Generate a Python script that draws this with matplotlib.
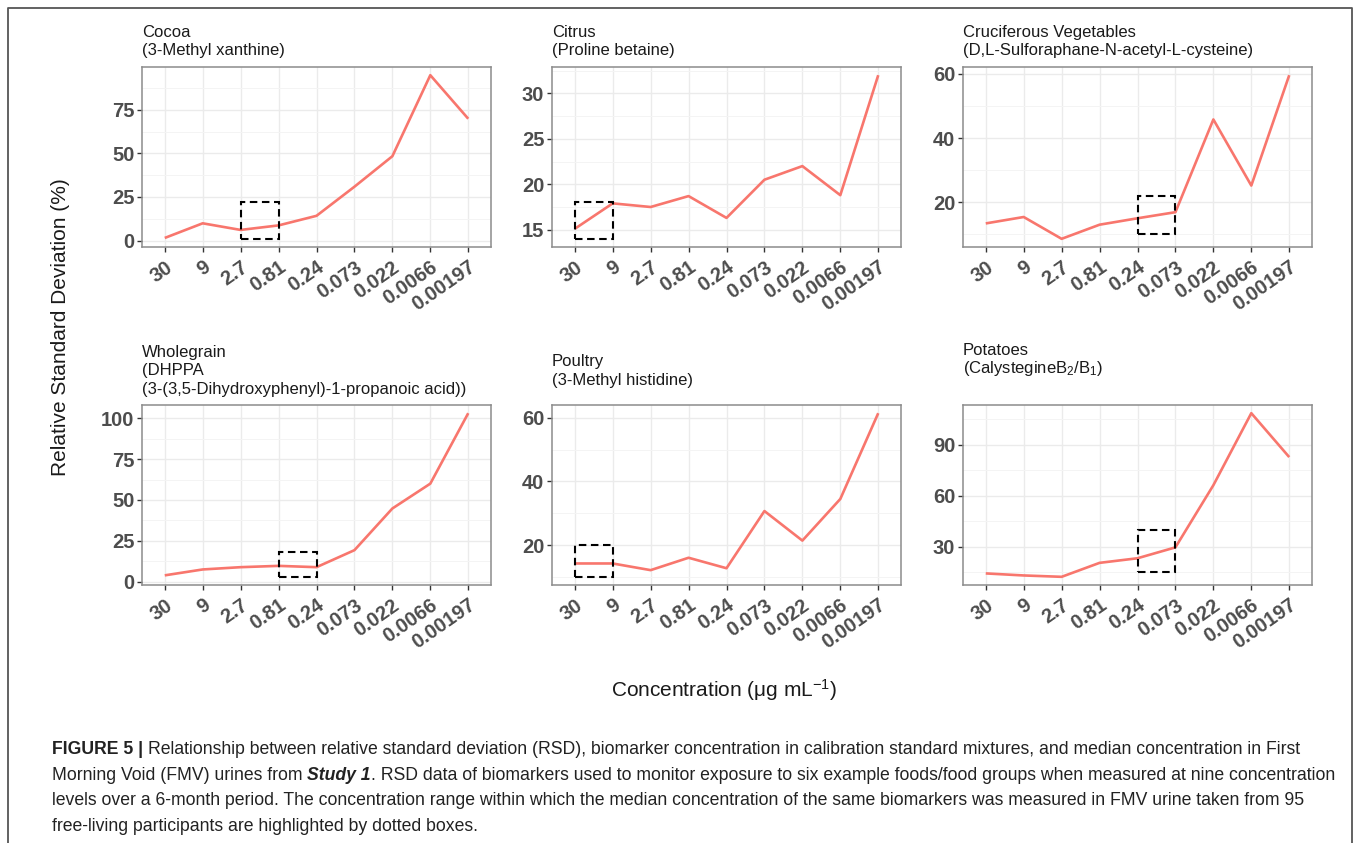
import matplotlib
matplotlib.use("Agg")
import matplotlib.pyplot as plt
from matplotlib.lines import Line2D
from matplotlib.patches import Rectangle
from matplotlib.ticker import MultipleLocator
import numpy as np

plt.rcParams["font.family"] = ["Liberation Sans", "DejaVu Sans"]

# Calibration levels (µg/mL), highest to lowest
concentrations = ["30", "9", "2.7", "0.81", "0.24", "0.073", "0.022", "0.0066", "0.00197"]

# RSD (%) of each biomarker at every calibration level
cocoa_rsd = [1.5, 9.9, 6.1, 8.7, 14.2, 30.9, 48.4, 94.9, 69.9]
citrus_rsd = [15.1, 17.9, 17.5, 18.7, 16.3, 20.5, 22.0, 18.8, 32.0]
cruciferous_rsd = [13.4, 15.4, 8.6, 13.0, 15.0, 16.9, 45.8, 25.2, 59.6]
wholegrain_rsd = [3.9, 7.5, 8.9, 9.7, 8.9, 19.3, 44.8, 60.0, 103.1]
poultry_rsd = [14.2, 14.2, 12.1, 16.0, 12.7, 30.7, 21.4, 34.5, 61.5]
potatoes_rsd = [14.3, 13.1, 12.3, 20.5, 23.2, 29.6, 66.1, 108.4, 82.6]

# Range of median FMV urine concentrations: (from level, to level, RSD low, RSD high)
cocoa_box = ("2.7", "0.81", 1, 22)
citrus_box = ("30", "9", 14, 18)
cruciferous_box = ("0.24", "0.073", 10, 22)
wholegrain_box = ("0.81", "0.24", 3, 18)
poultry_box = ("30", "9", 10, 20)
potatoes_box = ("0.24", "0.073", 15, 40)

titles = [
    ["Cocoa", "(3-Methyl xanthine)"],
    ["Citrus", "(Proline betaine)"],
    ["Cruciferous Vegetables", "(D,L-Sulforaphane-N-acetyl-L-cysteine)"],
    ["Wholegrain", "(DHPPA", "(3-(3,5-Dihydroxyphenyl)-1-propanoic acid))"],
    ["Poultry", "(3-Methyl histidine)"],
    ["Potatoes", r"(Calystegine$\mathregular{B_2}$/$\mathregular{B_1}$)"],
]
series = [cocoa_rsd, citrus_rsd, cruciferous_rsd, wholegrain_rsd, poultry_rsd, potatoes_rsd]
boxes = [cocoa_box, citrus_box, cruciferous_box, wholegrain_box, poultry_box, potatoes_box]
y_steps = [25, 5, 20, 25, 20, 30]

W, H = 1358, 843
fig = plt.figure(figsize=(W / 100, H / 100), dpi=100)
fig.patch.set_facecolor("white")

# panel layout in pixels: (left, top, width, height), plus title first-line baseline
panel_left = [142, 552, 963]
panel_top = [67, 405]
panel_w, panel_h = 349, 180
title_base = [37, 37, 37, 357, 366, 355]
line_gap = 18.5

LINE_COLOR = "#F8766D"
TICK_COLOR = "#4D4D4D"

for i in range(6):
    r, c = divmod(i, 3)
    l, t = panel_left[c], panel_top[r]
    ax = fig.add_axes([l / W, 1 - (t + panel_h) / H, panel_w / W, panel_h / H])
    x = np.arange(len(concentrations))
    vals = series[i]
    b0, b1, lo, hi = boxes[i]
    ax.plot(x, vals, color=LINE_COLOR, lw=1.9, solid_capstyle="butt", zorder=3)
    xb0, xb1 = concentrations.index(b0), concentrations.index(b1)
    ax.add_patch(Rectangle((xb0, lo), xb1 - xb0, hi - lo, fill=False,
                           edgecolor="black", lw=1.5, linestyle=(0, (3.6, 2.2)), zorder=4))

    # limits expanded by 5 % (continuous) and 0.6 units (discrete)
    ymin = min(min(vals), lo)
    ymax = max(max(vals), hi)
    rng = ymax - ymin
    ax.set_ylim(ymin - 0.05 * rng, ymax + 0.05 * rng)
    ax.set_xlim(-0.6, len(concentrations) - 0.4)

    step = y_steps[i]
    ax.yaxis.set_major_locator(MultipleLocator(step))
    ax.yaxis.set_minor_locator(MultipleLocator(step / 2))
    ax.set_xticks(x)
    ax.set_xticklabels(concentrations, rotation=35, ha="right", va="top",
                       rotation_mode="anchor")

    ax.grid(True, which="major", color="#EBEBEB", lw=1.0, zorder=0)
    ax.grid(True, which="minor", axis="y", color="#F4F4F4", lw=0.7, zorder=0)
    ax.set_axisbelow(True)
    for s in ax.spines.values():
        s.set_color("#8C8C8C")
        s.set_linewidth(1.1)
    ax.tick_params(axis="both", which="major", length=3.5, width=1.0, color="#333333",
                   labelcolor=TICK_COLOR, labelsize=14.5, pad=2)
    ax.tick_params(axis="x", which="major", pad=4)
    ax.tick_params(axis="y", which="minor", length=0)
    for lab in ax.get_xticklabels() + ax.get_yticklabels():
        lab.set_fontweight("bold")

    for k, line in enumerate(titles[i]):
        fig.text(l / W, 1 - (title_base[i] + k * line_gap) / H, line,
                 ha="left", va="baseline", fontsize=12, color="#1A1A1A")

# shared axis titles
fig.text(60 / W, 1 - 327 / H, "Relative Standard Deviation (%)", rotation=90,
         ha="center", va="center", fontsize=15, color="#1A1A1A")
fig.text(724 / W, 1 - 697 / H, r"Concentration (μg mL$\mathregular{^{-1}}$)",
         ha="center", va="baseline", fontsize=15, color="#1A1A1A")

# frame around the figure
fig.add_artist(Line2D([8 / W, 8 / W, 1352 / W, 1352 / W], [0, 1 - 8 / H, 1 - 8 / H, 0],
                      transform=fig.transFigure, color="#555555", lw=1.3))

# caption with mixed styles
caption = [
    [("FIGURE 5 | ", "bold", "normal"),
     ("Relationship between relative standard deviation (RSD), biomarker concentration in "
      "calibration standard mixtures, and median concentration in First", "normal", "normal")],
    [("Morning Void (FMV) urines from ", "normal", "normal"),
     ("Study 1", "bold", "italic"),
     (". RSD data of biomarkers used to monitor exposure to six example foods/food groups "
      "when measured at nine concentration", "normal", "normal")],
    [("levels over a 6-month period. The concentration range within which the median "
      "concentration of the same biomarkers was measured in FMV urine taken from 95",
      "normal", "normal")],
    [("free-living participants are highlighted by dotted boxes.", "normal", "normal")],
]
caption_base = [754, 780, 805, 831]
renderer = fig.canvas.get_renderer()
for base, segs in zip(caption_base, caption):
    xpos = 52
    for txt, weight, style in segs:
        t = fig.text(xpos / W, 1 - base / H, txt, ha="left", va="baseline",
                     fontsize=12.7, fontweight=weight, fontstyle=style, color="#222222")
        xpos += t.get_window_extent(renderer).width

fig.savefig("out.png", dpi=100, facecolor="white")
